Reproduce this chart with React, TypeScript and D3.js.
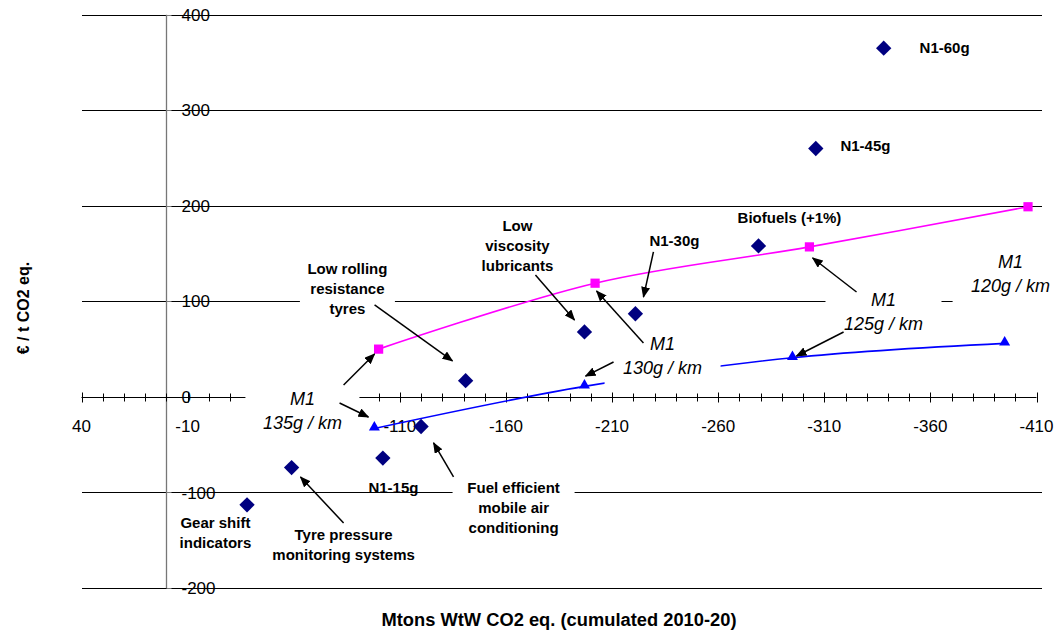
import React from 'react';
import * as d3 from 'd3';

const W = 1058;
const H = 632;

// Measures (cumulated WtW CO2 reduction, cost per tonne)
const measureNames = [
  'Gear shift indicators',
  'Tyre pressure monitoring systems',
  'N1-15g',
  'Fuel efficient mobile air conditioning',
  'Low rolling resistance tyres',
  'Low viscosity lubricants',
  'N1-30g',
  'Biofuels (+1%)',
  'N1-45g',
  'N1-60g',
];
const measureX = [-38, -59, -102, -120, -141, -197, -221, -279, -306, -338];
const measureY = [-113, -74, -64, -31, 17, 68, 87, 158, 260, 365];

// M1 targets – two cost curves
const m1Targets = ['135g / km', '130g / km', '125g / km', '120g / km'];
const m1UpperX = [-100, -202, -303, -406];
const m1UpperY = [50, 119, 157, 199];
const m1LowerX = [-98, -197, -295, -395];
const m1LowerY = [-33, 11, 41, 56];

// Axis ticks
const xMajorTicks = [40, -10, -60, -110, -160, -210, -260, -310, -360, -410];
const xMinorTicks = d3.range(40, -411, -10);
const yTicks = [400, 300, 200, 100, 0, -100, -200];

// Annotations (data coordinates)
type Label = { lines: string[]; x: number; y: number; anchor?: string; italic?: boolean; box?: number };
const labels: Label[] = [
  { lines: ['N1-60g'], x: -354.9, y: 365.1, anchor: 'start' },
  { lines: ['N1-45g'], x: -317.6, y: 262.6, anchor: 'start' },
  { lines: ['Biofuels (+1%)'], x: -293.6, y: 187.2 },
  { lines: ['N1-30g'], x: -239.4, y: 163.2 },
  { lines: ['Low', 'viscosity', 'lubricants'], x: -165.4, y: 178.9 },
  { lines: ['Low rolling', 'resistance', 'tyres'], x: -85.3, y: 133.9, box: 95 },
  { lines: ['Gear shift', 'indicators'], x: -23.1, y: -132 },
  { lines: ['Tyre pressure', 'monitoring systems'], x: -83.5, y: -144.5 },
  { lines: ['N1-15g'], x: -107, y: -95.3 },
  { lines: ['Fuel efficient', 'mobile air', 'conditioning'], x: -163.6, y: -95.3, box: 122 },
  { lines: ['M1', m1Targets[0]], x: -64.1, y: -2.2, italic: true, box: 114 },
  { lines: ['M1', m1Targets[1]], x: -233.8, y: 55.4, italic: true, box: 116 },
  { lines: ['M1', m1Targets[2]], x: -337.9, y: 101.4, italic: true, box: 116 },
  { lines: ['M1', m1Targets[3]], x: -397.8, y: 141.2, italic: true, box: 116 },
];

const arrows: [number, number, number, number][] = [
  [-83.5, 12.5, -98.1, 44.9],
  [-81.6, -6.4, -95.2, -21.0],
  [-98.1, 96.2, -134.8, 37.6],
  [-173.9, 127.6, -192.3, 80.5],
  [-229.5, 151.7, -224.8, 104.6],
  [-224.8, 56.4, -202.7, 110.8],
  [-210.7, 36.5, -197.5, 21.8],
  [-325.2, 109.8, -304.5, 145.4],
  [-319.1, 67.9, -296.9, 42.8],
  [-83.5, -132.0, -63.2, -83.8],
  [-135.3, -83.8, -125.9, -48.2],
];

const FONT = "'Liberation Sans', Arial, Helvetica, sans-serif";

export default function App() {
  const x = d3.scaleLinear().domain([40, -410]).range([81.5, 1036.5]);
  const y = d3.scaleLinear().domain([400, -200]).range([14.7, 588]);
  const plotLeft = 82;
  const plotRight = 1042;
  const x0 = Math.round(x(0)) + 0.5;
  const y0 = Math.round(y(0)) + 0.5;

  const line = d3
    .line<[number, number]>()
    .x((d) => x(d[0]))
    .y((d) => y(d[1]))
    .curve(d3.curveCatmullRom.alpha(0.5));

  const upper: [number, number][] = m1UpperX.map((v, i) => [v, m1UpperY[i]]);
  const lower: [number, number][] = m1LowerX.map((v, i) => [v, m1LowerY[i]]);

  const diamond = d3.symbol().type(d3.symbolDiamond2).size(150)();
  const square = d3.symbol().type(d3.symbolSquare).size(85)();
  const tri = d3.symbol().type(d3.symbolTriangle).size(52)();

  // white text-box rectangles (they mask the lines behind them)
  const boxes = labels
    .filter((l) => l.box)
    .map((l) => {
      const lh = l.italic ? 23.5 : 20;
      const pad = l.italic ? 17 : 12;
      const cy = y(l.y);
      const top = cy - pad;
      const bottom = cy + lh * (l.lines.length - 1) + pad;
      return { x: x(l.x) - (l.box as number) / 2, y: top, w: l.box as number, h: bottom - top };
    });
  const covered = (px: number, py: number) =>
    boxes.some((b) => px >= b.x && px <= b.x + b.w && py >= b.y && py <= b.y + b.h);

  return (
    <svg
      width={W}
      height={H}
      style={{ position: 'absolute', left: 0, top: 0, background: '#fff' }}
      fontFamily={FONT}
    >
      <defs>
        <marker id="ah" markerUnits="userSpaceOnUse" markerWidth={11} markerHeight={9} refX={10} refY={4.5} orient="auto">
          <path d="M0,0 L11,4.5 L0,9 Z" fill="#000" />
        </marker>
      </defs>
      <rect width={W} height={H} fill="#fff" />

      {/* y tick labels (drawn under gridlines) */}
      {yTicks.map((t) => (
        <text key={'yl' + t} x={x0 + 15} y={y(t)} dy="0.36em" fontSize={17} fill="#000">
          {t}
        </text>
      ))}

      {/* x tick labels (those hidden behind a text box are not drawn) */}
      {xMajorTicks
        .filter((t) => !covered(x(t), y0 + 28))
        .map((t) => (
          <text key={'xl' + t} x={x(t)} y={y0 + 28} dy="0.36em" fontSize={17} textAnchor="middle" fill="#000">
            {t}
          </text>
        ))}

      {/* horizontal gridlines */}
      {yTicks
        .filter((t) => t !== 0)
        .map((t) => (
          <line
            key={'g' + t}
            x1={plotLeft}
            x2={plotRight}
            y1={Math.round(y(t)) + 0.5}
            y2={Math.round(y(t)) + 0.5}
            stroke="#000"
            strokeWidth={1}
          />
        ))}

      {/* y axis */}
      <line x1={x0} x2={x0} y1={y(400)} y2={y(-200)} stroke="#777" strokeWidth={1.3} />
      {yTicks.map((t) => (
        <line key={'yt' + t} x1={x0} x2={x0 + 5} y1={Math.round(y(t)) + 0.5} y2={Math.round(y(t)) + 0.5} stroke="#777" />
      ))}

      {/* x axis */}
      <line x1={x(40)} x2={x(-410)} y1={y0} y2={y0} stroke="#000" strokeWidth={1.2} />
      {xMinorTicks.map((t) => {
        const major = xMajorTicks.includes(t);
        const xx = Math.round(x(t)) + 0.5;
        return (
          <line key={'xt' + t} x1={xx} x2={xx} y1={y0 - (major ? 5 : 4)} y2={y0 + (major ? 5 : 4)} stroke="#000" strokeWidth={1} />
        );
      })}

      {/* M1 curves */}
      <path d={line(upper) || ''} fill="none" stroke="#ff00ff" strokeWidth={1.6} />
      <path d={line(lower) || ''} fill="none" stroke="#0000ff" strokeWidth={1.6} />
      {upper.map((d, i) => (
        <path key={'u' + i} d={square || ''} transform={`translate(${x(d[0])},${y(d[1])})`} fill="#ff00ff" />
      ))}
      {lower.map((d, i) => (
        <path key={'l' + i} d={tri || ''} transform={`translate(${x(d[0])},${y(d[1]) - 1})`} fill="#0000ff" />
      ))}

      {/* measures */}
      {measureX.map((v, i) => (
        <path
          key={'m' + i}
          d={diamond || ''}
          transform={`translate(${x(v)},${y(measureY[i])})`}
          fill="#000080"
          aria-label={measureNames[i]}
        />
      ))}

      {/* label boxes */}
      {boxes.map((b, i) => (
        <rect key={'b' + i} x={b.x} y={b.y} width={b.w} height={b.h} fill="#fff" />
      ))}

      {/* labels */}
      {labels.map((l, i) => {
        const lh = l.italic ? 23.5 : 20;
        return (
          <text
            key={'t' + i}
            x={x(l.x)}
            y={y(l.y)}
            fontSize={l.italic ? 18 : 15}
            fontWeight={l.italic ? 'normal' : 'bold'}
            fontStyle={l.italic ? 'italic' : 'normal'}
            textAnchor={l.anchor || 'middle'}
            fill="#000"
          >
            {l.lines.map((s, j) => (
              <tspan key={j} x={x(l.x)} dy={j === 0 ? '0.36em' : lh}>
                {s}
              </tspan>
            ))}
          </text>
        );
      })}

      {/* arrows */}
      {arrows.map((a, i) => (
        <line key={'a' + i} x1={x(a[0])} y1={y(a[1])} x2={x(a[2])} y2={y(a[3])} stroke="#000" strokeWidth={1.5} markerEnd="url(#ah)" />
      ))}

      {/* axis titles */}
      <text x={559} y={620} dy="0.36em" textAnchor="middle" fontSize={18} fontWeight="bold" textLength={355} lengthAdjust="spacingAndGlyphs">
        Mtons WtW CO2 eq. (cumulated 2010-20)
      </text>
      <text transform={`translate(23,308) rotate(-90)`} dy="0.36em" textAnchor="middle" fontSize={16} fontWeight="bold">
        € / t CO2 eq.
      </text>
    </svg>
  );
}
